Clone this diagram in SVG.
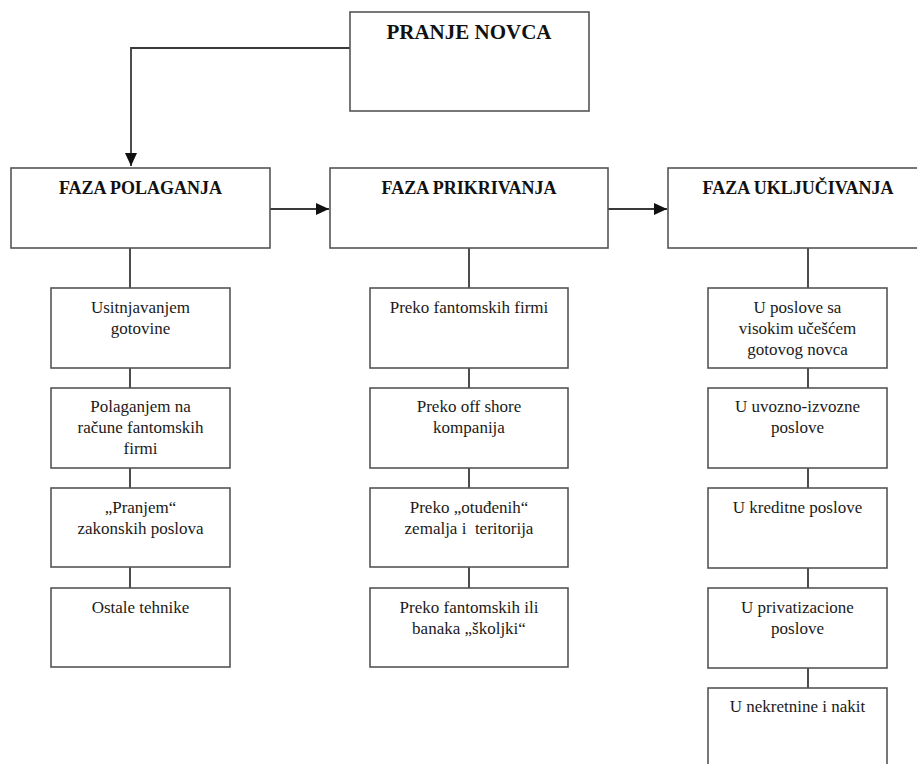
<svg xmlns="http://www.w3.org/2000/svg" width="917" height="764" viewBox="0 0 917 764">
<style>
.box{fill:#fff;stroke:#555;stroke-width:1.6}
.t{font-family:"Liberation Serif","Times New Roman",serif;font-size:17px;fill:#1a1a1a;text-anchor:middle}
.h{font-family:"Liberation Serif","Times New Roman",serif;font-size:18px;font-weight:bold;fill:#111;text-anchor:middle}
.c{stroke:#3a3a3a;stroke-width:1.8;fill:none}
</style>
<defs>
<marker id="arrw" viewBox="0 0 10 10" refX="10" refY="5" markerWidth="13" markerHeight="12" markerUnits="userSpaceOnUse" orient="auto" preserveAspectRatio="none">
<path d="M0,0 L10,5 L0,10 z" fill="#111"/>
</marker>
</defs>
<rect width="917" height="764" fill="#fff"/>
<g id="connectors">
<path class="c" d="M350,48 H131 V166" marker-end="url(#arrw)"/>
<path class="c" d="M270,209 H329" marker-end="url(#arrw)"/>
<path class="c" d="M608,209 H667" marker-end="url(#arrw)"/>
<path class="c" d="M130,248 V288 M130,368 V388 M130,468 V488 M130,567 V588"/>
<path class="c" d="M469,248 V288 M469,368 V388 M469,468 V488 M469,567 V588"/>
<path class="c" d="M808,248 V288 M808,368 V388 M808,468 V488 M808,568 V588 M808,668 V688"/>
</g>
<g id="pranje-novca">
<rect class="box" x="350" y="12" width="239" height="99"/>
<text class="h" x="469" y="39" style="font-size:21px">PRANJE NOVCA</text>
</g>
<g id="faza-polaganja">
<rect class="box" x="11" y="168" width="259" height="80"/>
<text class="h" x="140.5" y="194">FAZA POLAGANJA</text>
</g>
<g id="faza-prikrivanja">
<rect class="box" x="330" y="168" width="278" height="80"/>
<text class="h" x="469" y="194">FAZA PRIKRIVANJA</text>
</g>
<g id="faza-ukljucivanja">
<rect class="box" x="668" y="168" width="260" height="80"/>
<text class="h" x="798" y="194">FAZA UKLJUČIVANJA</text>
</g>
<g id="p1">
<rect class="box" x="51" y="288" width="179" height="80"/>
<text class="t" x="140.5" y="313">Usitnjavanjem</text>
<text class="t" x="140.5" y="334">gotovine</text>
</g>
<g id="p2">
<rect class="box" x="51" y="388" width="179" height="80"/>
<text class="t" x="140.5" y="412">Polaganjem na</text>
<text class="t" x="140.5" y="433">račune fantomskih</text>
<text class="t" x="140.5" y="454">firmi</text>
</g>
<g id="p3">
<rect class="box" x="51" y="488" width="179" height="79"/>
<text class="t" x="140.5" y="513">„Pranjem“</text>
<text class="t" x="140.5" y="534">zakonskih poslova</text>
</g>
<g id="p4">
<rect class="box" x="51" y="588" width="179" height="79"/>
<text class="t" x="140.5" y="613">Ostale tehnike</text>
</g>
<g id="k1">
<rect class="box" x="370" y="288" width="198" height="80"/>
<text class="t" x="469" y="313">Preko fantomskih firmi</text>
</g>
<g id="k2">
<rect class="box" x="370" y="388" width="198" height="80"/>
<text class="t" x="469" y="412">Preko off shore</text>
<text class="t" x="469" y="433">kompanija</text>
</g>
<g id="k3">
<rect class="box" x="370" y="488" width="198" height="79"/>
<text class="t" x="469" y="513">Preko „otuđenih“</text>
<text class="t" x="469" y="534" xml:space="preserve">zemalja i  teritorija</text>
</g>
<g id="k4">
<rect class="box" x="370" y="588" width="198" height="79"/>
<text class="t" x="469" y="613">Preko fantomskih ili</text>
<text class="t" x="469" y="634">banaka „školjki“</text>
</g>
<g id="u1">
<rect class="box" x="708" y="288" width="179" height="80"/>
<text class="t" x="797.5" y="313">U poslove sa</text>
<text class="t" x="797.5" y="334">visokim učešćem</text>
<text class="t" x="797.5" y="355">gotovog novca</text>
</g>
<g id="u2">
<rect class="box" x="708" y="388" width="179" height="80"/>
<text class="t" x="797.5" y="412">U uvozno-izvozne</text>
<text class="t" x="797.5" y="433">poslove</text>
</g>
<g id="u3">
<rect class="box" x="708" y="488" width="179" height="80"/>
<text class="t" x="797.5" y="513">U kreditne poslove</text>
</g>
<g id="u4">
<rect class="box" x="708" y="588" width="179" height="80"/>
<text class="t" x="797.5" y="613">U privatizacione</text>
<text class="t" x="797.5" y="634">poslove</text>
</g>
<g id="u5">
<rect class="box" x="708" y="688" width="179" height="90"/>
<text class="t" x="797.5" y="712">U nekretnine i nakit</text>
</g>
</svg>
